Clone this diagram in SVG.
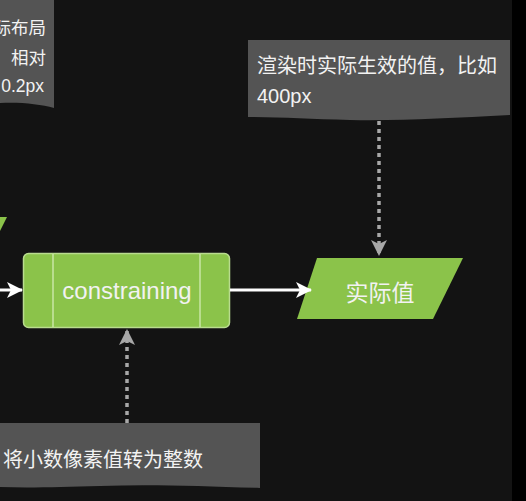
<svg xmlns="http://www.w3.org/2000/svg" width="526" height="501" viewBox="0 0 526 501">
<style>
.note{fill:#545454;}
.ntext{fill:#f2f2f2;font-family:"Liberation Sans","Noto Sans CJK SC",sans-serif;}
.green{fill:#8bc34a;}
.wline{stroke:#ffffff;stroke-width:3;fill:none;}
.dline{stroke:#a8a8a8;stroke-width:3.5;stroke-dasharray:4 4;fill:none;}
</style>
<defs>
<marker id="wa" viewBox="0 0 16 16" refX="15" refY="8" markerWidth="16" markerHeight="16" markerUnits="userSpaceOnUse" orient="auto">
<path d="M0,0 L16,8 L0,16 L4,8 Z" fill="#ffffff"/>
</marker>
<marker id="ga" viewBox="0 0 16 16" refX="15" refY="8" markerWidth="16" markerHeight="16" markerUnits="userSpaceOnUse" orient="auto">
<path d="M0,0 L16,8 L0,16 L4,8 Z" fill="#a8a8a8"/>
</marker>
</defs>
<rect x="0" y="0" width="526" height="501" fill="#131313"/>
<rect x="512" y="0" width="14" height="501" fill="#000000"/>

<g id="note-layout">
<path class="note" d="M0,0 L54,0 L54,108 C40,104 20,102 0,103 Z"/>
<text class="ntext" font-size="17.5" x="46" y="34" text-anchor="end">际布局</text>
<text class="ntext" font-size="17.5" x="46" y="64" text-anchor="end">相对</text>
<text class="ntext" font-size="17.5" x="44" y="92" text-anchor="end">0.2px</text>
</g>

<g id="input-fragment">
<polygon class="green" points="0,217 7,217 0,231"/>
</g>

<g id="note-actual">
<path class="note" d="M248,40 L510,40 L510,115 C450,118 400,121 350,120 C310,119 280,117 248,117 Z"/>
<text class="ntext" font-size="20" x="257" y="73">渲染时实际生效的值，比如</text>
<text class="ntext" font-size="20" x="257" y="103">400px</text>
</g>

<g id="constraining">
<rect x="23.5" y="253.5" width="206" height="74" rx="5" fill="#8bc34a" stroke="#b9dc8e" stroke-width="1.5"/>
<line x1="53" y1="254" x2="53" y2="327" stroke="#c8e6a6" stroke-width="1.5"/>
<line x1="200" y1="254" x2="200" y2="327" stroke="#c8e6a6" stroke-width="1.5"/>
<text class="ntext" font-size="24" x="127" y="299" text-anchor="middle">constraining</text>
</g>

<g id="actual-value">
<polygon class="green" points="317,258 463,258 433,319 297,319"/>
<text class="ntext" font-size="23" x="380" y="301" text-anchor="middle">实际值</text>
</g>

<g id="note-integer">
<path class="note" d="M0,423 L260,423 L260,488 C200,486 150,484 100,486 C60,487 30,488 0,487 Z"/>
<text class="ntext" font-size="20" x="3" y="467">将小数像素值转为整数</text>
</g>

<g id="connectors">
<line class="wline" x1="0" y1="290" x2="22" y2="290" marker-end="url(#wa)"/>
<line class="wline" x1="230" y1="290" x2="311" y2="290" marker-end="url(#wa)"/>
<line class="dline" x1="379" y1="121" x2="379" y2="255" marker-end="url(#ga)"/>
<line class="dline" x1="127" y1="423" x2="127" y2="330" marker-end="url(#ga)"/>
</g>
</svg>
